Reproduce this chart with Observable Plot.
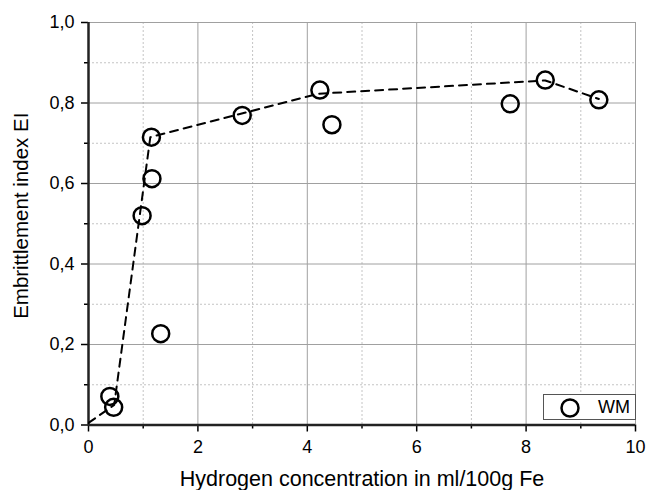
<!DOCTYPE html>
<html>
<head>
<meta charset="utf-8">
<script src="https://cdn.jsdelivr.net/npm/d3@7"></script>
<script src="https://cdn.jsdelivr.net/npm/@observablehq/plot@0.6"></script>
<style>
  body { margin: 0; background: #fff; }
  #wrap { position: relative; width: 647px; height: 490px; font-family: "Liberation Sans", Arial, sans-serif; }
  #legend { position: absolute; left: 543px; top: 394px; width: 91px; height: 24px; border: 1px solid #555; background: #fff; box-sizing: content-box; }
  #legend svg { position: absolute; left: 15px; top: 2px; }
  #legend span { position: absolute; left: 54px; top: 2px; font-size: 18px; color: #000; }
</style>
</head>
<body>
<div id="wrap"></div>
<script>
// Data
const hydrogen = [0.39, 0.46, 0.98, 1.16, 1.15, 1.32, 2.81, 4.23, 4.45, 7.71, 8.35, 9.33];
const ei       = [0.071, 0.044, 0.52, 0.612, 0.715, 0.227, 0.769, 0.832, 0.746, 0.798, 0.857, 0.808];
const trendX   = [0.0, 0.47, 1.13, 4.2, 8.35, 9.33];
const trendY   = [0.005, 0.05, 0.715, 0.823, 0.856, 0.81];
const xMajor = [0, 2, 4, 6, 8, 10];
const xMinor = [1, 3, 5, 7, 9];
const yMajor = [0, 0.2, 0.4, 0.6, 0.8, 1.0];
const yMinor = [0.1, 0.3, 0.5, 0.7, 0.9];
const seriesName = "WM";
const xLabel = "Hydrogen concentration in ml/100g Fe";
const yLabel = "Embrittlement index EI";

const points = hydrogen.map((x, i) => ({x, y: ei[i]}));
const trend = trendX.map((x, i) => ({x, y: trendY[i]}));
const fmt = d => d3.format(".1f")(d).replace(".", ",");

const chart = Plot.plot({
  width: 647,
  height: 490,
  marginLeft: 88,
  marginRight: 12,
  marginTop: 22,
  marginBottom: 65.5,
  style: {fontFamily: "'Liberation Sans', Arial, sans-serif", fontSize: "18px", color: "#000", background: "#fff"},
  x: {domain: [0, 10], label: null},
  y: {domain: [0, 1], label: null},
  marks: [
    Plot.gridX(xMinor, {stroke: "#c4c4c4", strokeOpacity: 1, strokeDasharray: "2,2"}),
    Plot.gridY(yMinor, {stroke: "#c4c4c4", strokeOpacity: 1, strokeDasharray: "2,2"}),
    Plot.gridX(xMajor, {stroke: "#a0a0a0", strokeOpacity: 1}),
    Plot.gridY(yMajor, {stroke: "#a0a0a0", strokeOpacity: 1}),
    Plot.axisX(xMinor, {tickSize: 4, tickFormat: () => "", strokeWidth: 1.5, label: null}),
    Plot.axisY(yMinor, {tickSize: 4, tickFormat: () => "", strokeWidth: 1.5, label: null}),
    Plot.axisX(xMajor, {tickSize: 7, tickPadding: 8, strokeWidth: 1.5, fontSize: 18, label: null}),
    Plot.axisY(yMajor, {tickSize: 7, tickPadding: 7, strokeWidth: 1.5, fontSize: 18, tickFormat: fmt, label: null}),
    Plot.ruleX([0], {stroke: "#222", strokeWidth: 2.5}),
    Plot.ruleY([0], {stroke: "#222", strokeWidth: 2.5}),
    Plot.line(trend, {x: "x", y: "y", stroke: "#000", strokeWidth: 2, strokeDasharray: "8,6", clip: true}),
    Plot.dot(points, {x: "x", y: "y", r: 8.5, stroke: "#000", strokeWidth: 2.5, fill: "none"}),
    Plot.text([xLabel], {frameAnchor: "bottom", dy: 61, fontSize: 21.5, text: d => d}),
    Plot.text([yLabel], {frameAnchor: "left", textAnchor: "middle", dx: -67, dy: -8, rotate: -90, fontSize: 20.5, text: d => d})
  ]
});

const wrap = document.getElementById("wrap");
wrap.appendChild(chart);
const legend = document.createElement("div");
legend.id = "legend";
legend.innerHTML = `<svg width="22" height="22"><circle cx="11" cy="11" r="8.5" fill="none" stroke="#000" stroke-width="2.5"/></svg><span>${seriesName}</span>`;
wrap.appendChild(legend);
</script>
</body>
</html>
